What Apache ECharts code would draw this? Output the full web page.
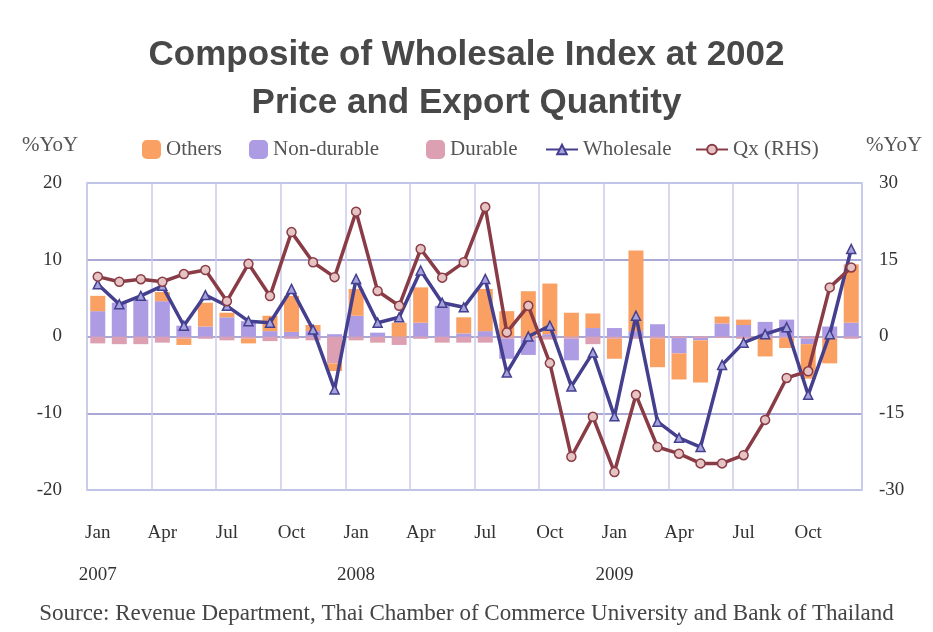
<!DOCTYPE html>
<html>
<head>
<meta charset="utf-8">
<script src="https://cdn.jsdelivr.net/npm/echarts@6/dist/echarts.min.js"></script>
<style>
  html, body { margin: 0; padding: 0; background: #fff; }
  #myChart { width: 933px; height: 632px; }
</style>
</head>
<body>
<div id="myChart"></div>
<script>
// months Jan 2007 .. Dec 2009
var months = ['Jan', 'Feb', 'Mar', 'Apr', 'May', 'Jun', 'Jul', 'Aug', 'Sep', 'Oct', 'Nov', 'Dec'];
var years = ['2007', '2008', '2009'];
var categories = [];
years.forEach(function (y) {
  months.forEach(function (m) {
    categories.push(m + ' ' + y);
  });
});

// contributions, %YoY (left axis)
var others = [2.0, 0, 0, 1.2, -0.8, 3.1, 0.6, -0.6, 2.0, 4.7, 0.8, -1.0,
  3.5, 0, 1.8, 4.6, 0, 2.1, 5.5, 3.3, 5.9, 6.6, 3.1, 1.9,
  -2.6, 10.5, -3.7, -3.4, -5.5, 0.9, 0.7, -2.4, -1.3, -4.5, -3.2, 7.6];
var nonDurable = [3.3, 4.4, 4.8, 4.6, 1.4, 1.3, 2.5, 2.0, 0.7, 0.6, 0.7, 0.3,
  2.7, 0.5, 0, 1.8, 4.0, 0.4, 0.7, -2.6, -2.0, 0.3, -2.8, 1.1,
  1.1, 0.7, 1.6, -2.0, -0.3, 1.7, 1.5, 1.9, 2.2, -0.7, 1.3, 1.8];
var durable = [-0.9, -1.0, -1.0, -0.8, -0.3, -0.3, -0.5, -0.3, -0.6, -0.3, -0.5, -3.5,
  -0.5, -0.8, -1.1, -0.3, -0.8, -0.8, -0.8, -0.3, -0.4, -0.4, -0.3, -1.0,
  -0.3, -0.3, -0.3, -0.2, -0.2, -0.2, -0.3, -0.2, -0.2, -0.3, -0.3, -0.3];
var wholesale = [6.8, 4.2, 5.3, 6.6, 1.4, 5.4, 4.0, 2.0, 1.8, 6.2, 0.9, -6.9,
  7.5, 1.8, 2.5, 8.6, 4.4, 3.8, 7.5, -4.7, 0, 1.4, -6.5, -2.1,
  -10.4, 2.7, -11.1, -13.2, -14.4, -3.7, -0.8, 0.3, 1.2, -7.6, 0.3, 11.4];
// export quantity, %YoY (right axis)
var qx = [11.7, 10.7, 11.2, 10.7, 12.2, 13.0, 6.9, 14.2, 7.9, 20.4, 14.5, 11.6,
  24.4, 8.9, 6.0, 17.1, 11.5, 14.5, 25.3, 0.8, 6.0, -5.2, -23.5, -15.7,
  -26.5, -11.4, -21.6, -22.9, -24.8, -24.8, -23.2, -16.3, -8.1, -6.8, 9.6, 13.5];

var leftTicks = { min: -20, max: 20, interval: 10 };
var rightTicks = { min: -30, max: 30, interval: 15 };

var serif = 'Liberation Serif';
var legendText = { fontFamily: serif, fontSize: 21, color: '#555' };

// one legend per item so each sits where it does in the picture
function legendItem(name, left, isLine) {
  return {
    data: [name],
    left: left,
    top: 134,
    itemWidth: isLine ? 32 : 19,
    itemHeight: isLine ? 12 : 19,
    itemGap: 0,
    textStyle: legendText,
  };
}

var chartInst = echarts.init(document.getElementById('myChart'));

chartInst.setOption({
  backgroundColor: '#fff',
  animation: false,
  title: {
    text: 'Composite of Wholesale Index at 2002\nPrice and Export Quantity',
    left: 'center',
    top: 26,
    textStyle: {
      fontFamily: 'Liberation Sans',
      fontWeight: 'bold',
      fontSize: 35,
      lineHeight: 48,
      color: '#484848',
    },
  },
  legend: [
    legendItem('Others', 137, false),
    legendItem('Non-durable', 244, false),
    legendItem('Durable', 421, false),
    legendItem('Wholesale', 540, true),
    legendItem('Qx (RHS)', 690, true),
  ],
  graphic: [
    {
      type: 'text',
      left: 22,
      top: 135,
      style: { text: '%YoY', font: '21px "Liberation Serif"', fill: '#555' },
    },
    {
      type: 'text',
      left: 866,
      top: 135,
      style: { text: '%YoY', font: '21px "Liberation Serif"', fill: '#555' },
    },
    {
      type: 'text',
      left: 'center',
      top: 602,
      style: {
        text: 'Source: Revenue Department, Thai Chamber of Commerce University and Bank of Thailand',
        font: '23px "Liberation Serif"',
        fill: '#444',
      },
    },
  ],
  grid: {
    left: 87,
    right: 71,
    top: 183,
    bottom: 142,
    show: true,
    borderColor: '#bcc0e6',
    borderWidth: 1.5,
  },
  xAxis: {
    type: 'category',
    data: categories,
    axisLine: { show: false },
    axisTick: { show: false },
    splitLine: {
      show: true,
      interval: 2,
      lineStyle: { color: '#cacbea', width: 1.5 },
    },
    axisLabel: {
      interval: 2,
      margin: 22,
      lineHeight: 42,
      fontFamily: serif,
      fontSize: 19,
      color: '#333',
      formatter: function (val) {
        var p = val.split(' ');
        return p[0] === 'Jan' ? p[0] + '\n' + p[1] : p[0];
      },
    },
  },
  yAxis: [
    {
      type: 'value',
      min: leftTicks.min,
      max: leftTicks.max,
      interval: leftTicks.interval,
      axisLine: { show: false },
      axisTick: { show: false },
      axisLabel: { margin: 25, fontFamily: serif, fontSize: 19, color: '#333' },
      splitLine: {
        lineStyle: {
          color: ['#bcc0e6', '#8e8bc6', '#8e8bc6', '#8e8bc6', '#bcc0e6'],
          width: 1.5,
        },
      },
    },
    {
      type: 'value',
      min: rightTicks.min,
      max: rightTicks.max,
      interval: rightTicks.interval,
      axisLine: { show: false },
      axisTick: { show: false },
      axisLabel: { margin: 17, fontFamily: serif, fontSize: 19, color: '#333' },
      splitLine: { show: false },
    },
  ],
  series: [
    // stacked from zero outward: durable, non-durable, others
    {
      name: 'Durable',
      type: 'bar',
      stack: 'contrib',
      barWidth: 15,
      data: durable,
      itemStyle: { color: '#dca0b2' },
    },
    {
      name: 'Non-durable',
      type: 'bar',
      stack: 'contrib',
      barWidth: 15,
      data: nonDurable,
      itemStyle: { color: '#ad9be4' },
    },
    {
      name: 'Others',
      type: 'bar',
      stack: 'contrib',
      barWidth: 15,
      data: others,
      itemStyle: { color: '#f9a062' },
    },
    {
      name: 'Wholesale',
      type: 'line',
      data: wholesale,
      symbol: 'triangle',
      symbolSize: 9,
      lineStyle: { color: '#443f8e', width: 3.5 },
      itemStyle: { color: '#a6a2dc', borderColor: '#443f8e', borderWidth: 1.5 },
      z: 5,
    },
    {
      name: 'Qx (RHS)',
      type: 'line',
      yAxisIndex: 1,
      data: qx,
      symbol: 'circle',
      symbolSize: 9,
      lineStyle: { color: '#8a3c46', width: 3.5 },
      itemStyle: { color: '#e6c4c4', borderColor: '#8a3c46', borderWidth: 1.5 },
      z: 6,
    },
  ],
});
</script>
</body>
</html>
